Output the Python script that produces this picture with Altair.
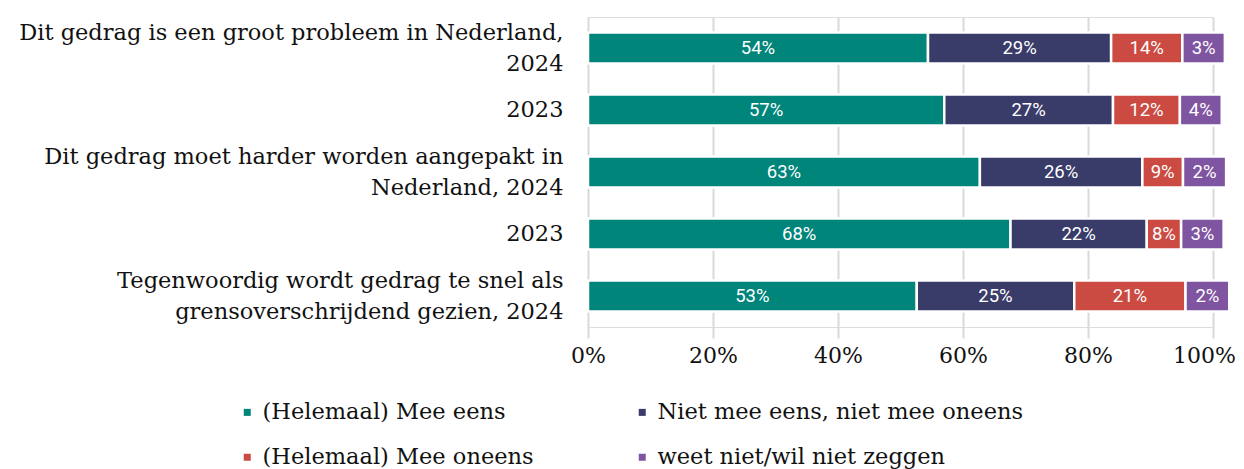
import json
import altair as alt
import pandas as pd

# Row labels (split into display lines)
row_lines = [
    ["Dit gedrag is een groot probleem in Nederland,", "2024"],
    ["2023"],
    ["Dit gedrag moet harder worden aangepakt in", "Nederland, 2024"],
    ["2023"],
    ["Tegenwoordig wordt gedrag te snel als", "grensoverschrijdend gezien, 2024"],
]

series = [
    "(Helemaal) Mee eens",
    "Niet mee eens, niet mee oneens",
    "(Helemaal) Mee oneens",
    "weet niet/wil niet zeggen",
]
colors = ["#00857A", "#393B69", "#CB4B43", "#7F55A1"]

# Bar lengths as drawn (percent of axis)
mee_eens = [54.4, 57.0, 62.7, 67.6, 52.6]
neutraal = [29.3, 27.0, 26.0, 21.8, 25.2]
mee_oneens = [11.4, 10.7, 6.5, 5.5, 17.8]
weet_niet = [6.8, 6.7, 6.9, 6.8, 7.0]

# Printed labels
mee_eens_lbl = ["54%", "57%", "63%", "68%", "53%"]
neutraal_lbl = ["29%", "27%", "26%", "22%", "25%"]
mee_oneens_lbl = ["14%", "12%", "9%", "8%", "21%"]
weet_niet_lbl = ["3%", "4%", "2%", "3%", "2%"]

x_ticks = [0, 20, 40, 60, 80, 100]

vals = [mee_eens, neutraal, mee_oneens, weet_niet]
lbls = [mee_eens_lbl, neutraal_lbl, mee_oneens_lbl, weet_niet_lbl]
records = []
for si, name in enumerate(series):
    for ri in range(len(row_lines)):
        records.append({
            "row": ri,
            "serie": name,
            "k": si,
            "val": vals[si][ri],
            "lbl": lbls[si][ri],
        })
df = pd.DataFrame(records)

label_expr = json.dumps(row_lines) + "[datum.value]"
two_line = [i for i, l in enumerate(row_lines) if len(l) > 1]

# legend laid out column-major -> order entries so rows read as in the reference
legend_order = [series[0], series[2], series[1], series[3]]
legend_colors = [colors[0], colors[2], colors[1], colors[3]]

SERIF = "DejaVu Serif"
FS = 22.5
LH = 31

base = alt.Chart(df).transform_stack(
    stack="val", groupby=["row"], as_=["x0", "x1"], sort=[alt.SortField("k")]
).transform_calculate(mid="(datum.x0 + datum.x1) / 2")

y_enc = alt.Y(
    "row:O",
    title=None,
    scale=alt.Scale(paddingInner=0.5, paddingOuter=0.25),
    axis=alt.Axis(
        labelExpr=label_expr,
        labelFont=SERIF,
        labelFontSize=FS,
        labelColor="#111111",
        labelLineHeight=LH,
        labelPadding=25,
        labelLimit=700,
        labelAlign="right",
        labelBaseline="middle",
        labelOffset={
            "condition": {
                "test": f"indexof({json.dumps(two_line)}, datum.value) >= 0",
                "value": -LH / 2,
            },
            "value": 0,
        },
        ticks=False,
        domain=False,
        grid=False,
    ),
)

x_scale = alt.Scale(domain=[0, 100], nice=False)

bars = base.mark_bar(stroke="white", strokeWidth=2.5).encode(
    y=y_enc,
    x=alt.X(
        "x0:Q",
        scale=x_scale,
        title=None,
        axis=alt.Axis(
            values=x_ticks,
            labelExpr="datum.value + '%'",
            labelFont=SERIF,
            labelFontSize=22,
            labelColor="#111111",
            labelPadding=7,
            labelFlush=False,
            labelOffset={
                "condition": {"test": f"datum.value == {x_ticks[-1]}", "value": -9},
                "value": 0,
            },
            grid=True,
            gridColor="#d9d9d9",
            gridWidth=2,
            domain=False,
            ticks=True,
            tickColor="#d9d9d9",
            tickWidth=2,
            tickSize=11,
        ),
    ),
    x2="x1:Q",
    color=alt.Color(
        "serie:N",
        scale=alt.Scale(domain=legend_order, range=legend_colors),
        legend=alt.Legend(
            title=None,
            orient="none",
            legendX=-352,
            legendY=384,
            columns=2,
            columnPadding=97,
            rowPadding=22,
            symbolType="square",
            symbolSize=49,
            symbolStrokeWidth=0,
            labelFont=SERIF,
            labelFontSize=FS,
            labelColor="#111111",
            labelOffset=4,
            labelLimit=500,
        ),
    ),
    order=alt.Order("k:Q"),
)

text = base.mark_text(
    color="white", font="Roboto", fontSize=18.5, baseline="middle", align="center"
).encode(
    y=alt.Y("row:O"),
    x=alt.X("mid:Q", scale=x_scale),
    text="lbl:N",
)

chart = (
    alt.layer(bars, text)
    .properties(
        width=625,
        height=310,
        autosize=alt.AutoSizeParams(type="none"),
        padding={"left": 580, "top": 9, "right": 23, "bottom": 142},
    )
    .configure_view(stroke=None)
    .configure(background="white")
)

chart.save("out.html", embed_options={"renderer": "svg", "actions": False})
